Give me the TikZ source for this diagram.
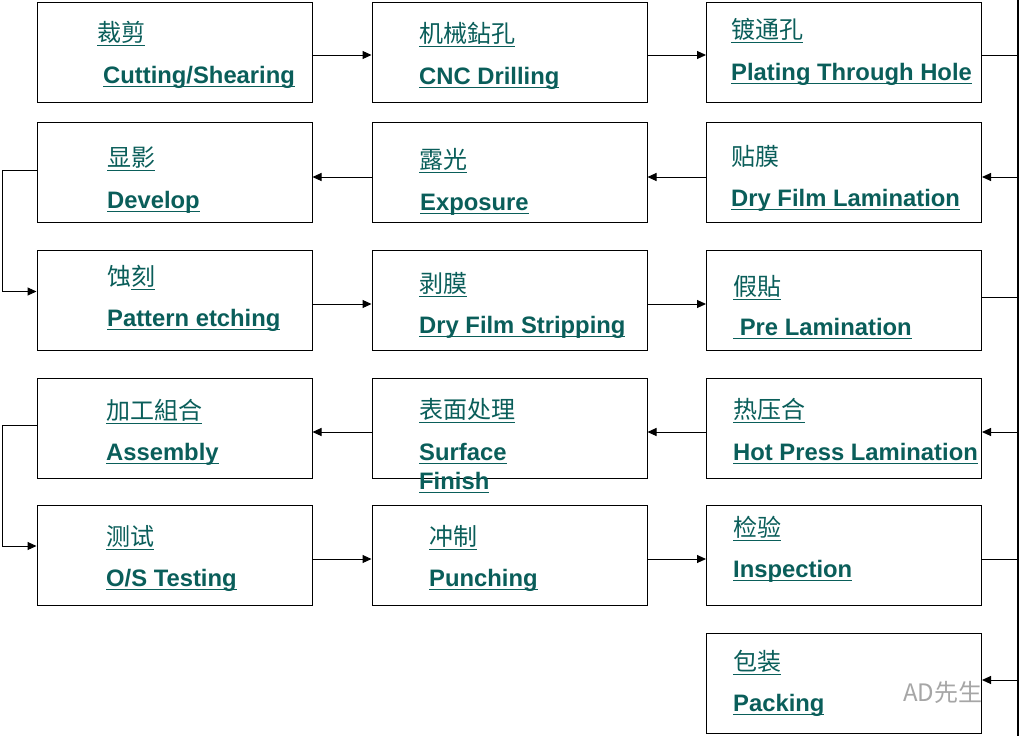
\documentclass[tikz,border=0pt]{standalone}
\usepackage{fontspec}
\setmainfont{Liberation Sans}
\newfontfamily\cjk{Noto Sans CJK SC}
\usetikzlibrary{arrows.meta}
\definecolor{tealtext}{RGB}{10,94,90}
\newdimen\ulgap
\newcommand{\uln}[1]{\setbox0\hbox{#1}\rlap{\vrule height -\ulgap depth \dimexpr\ulgap+1.2pt\relax width \wd0}\box0}

\begin{document}
\begin{tikzpicture}
[every node/.style={inner sep=0pt},
 stepbox/.style={rectangle, minimum width=275pt, minimum height=100pt, fill=white, line width=1pt, draw=black},
 cn/.style={anchor=base west, text=tealtext, font={\cjk\fontsize{24}{28}\selectfont\ulgap=4pt}},
 en/.style={anchor=base west, text=tealtext, font={\fontsize{23.8}{28}\selectfont\bfseries\ulgap=3pt}},
 conn/.style={line width=1pt, -{Triangle[length=9pt,width=8pt]}, color=black}]
\useasboundingbox [fill=white] (0pt, 0pt) rectangle (1020pt, -736pt);
\coordinate (rrail) at (1018pt, 0pt);
\coordinate (lrail) at (2pt, 0pt);
\draw [line width=1.5pt] (1018pt, 0pt) -- (1018pt, -736pt);
% boxes
\node (cut) [stepbox] at (174.5pt, -52pt) {};
\node (drill) [stepbox] at (509.5pt, -52pt) {};
\node (pth) [stepbox] at (844pt, -52pt) {};
\node (dev) [stepbox] at (174.5pt, -172pt) {};
\node (expo) [stepbox] at (509.5pt, -172pt) {};
\node (lam) [stepbox] at (844pt, -172pt) {};
\node (etch) [stepbox] at (174.5pt, -300.5pt) {};
\node (strip) [stepbox] at (509.5pt, -300.5pt) {};
\node (prelam) [stepbox] at (844pt, -300.5pt) {};
\node (assy) [stepbox] at (174.5pt, -428pt) {};
\node (surf) [stepbox] at (509.5pt, -428pt) {};
\node (hot) [stepbox] at (844pt, -428pt) {};
\node (ost) [stepbox] at (174.5pt, -555.5pt) {};
\node (punch) [stepbox] at (509.5pt, -555.5pt) {};
\node (insp) [stepbox] at (844pt, -555.5pt) {};
\node (pack) [stepbox] at (844pt, -683.5pt) {};
% labels
\node (cut-cn) [cn] at (97pt, -41pt) {\uln{裁剪}};
\node (cut-en) [en] at (103pt, -83pt) {\uln{Cutting/Shearing}};
\node (drill-cn) [cn] at (419pt, -42pt) {\uln{机械鉆孔}};
\node (drill-en) [en] at (419pt, -84pt) {\uln{CNC Drilling}};
\node (pth-cn) [cn] at (731pt, -38pt) {\uln{镀通孔}};
\node (pth-en) [en] at (731pt, -80pt) {\uln{Plating Through Hole}};
\node (dev-cn) [cn] at (107pt, -166pt) {\uln{显影}};
\node (dev-en) [en] at (107pt, -208pt) {\uln{Develop}};
\node (expo-cn) [cn] at (419pt, -168pt) {\uln{露光}};
\node (expo-en) [en] at (420pt, -210pt) {\uln{Exposure}};
\node (lam-cn) [cn] at (731pt, -165pt) {贴膜};
\node (lam-en) [en] at (731pt, -206pt) {\uln{Dry Film Lamination}};
\node (etch-cn) [cn] at (107pt, -285pt) {蚀\uln{刻}};
\node (etch-en) [en] at (107pt, -326pt) {\uln{Pattern etching}};
\node (strip-cn) [cn] at (419pt, -292pt) {\uln{剥膜}};
\node (strip-en) [en] at (419pt, -333pt) {\uln{Dry Film Stripping}};
\node (prelam-cn) [cn] at (733pt, -295pt) {\uln{假貼}};
\node (prelam-en) [en] at (733pt, -335pt) {\uln{\ Pre Lamination}};
\node (assy-cn) [cn] at (106pt, -419pt) {\uln{加工組合}};
\node (assy-en) [en] at (106pt, -460pt) {\uln{Assembly}};
\node (surf-cn) [cn] at (419pt, -418pt) {\uln{表面处理}};
\node (surf-en) [en] at (419pt, -460pt) {\uln{Surface}};
\node (surf-en2) [en] at (419pt, -489pt) {\uln{Finish}};
\node (hot-cn) [cn] at (733pt, -418pt) {\uln{热压合}};
\node (hot-en) [en] at (733pt, -460pt) {\uln{Hot Press Lamination}};
\node (ost-cn) [cn] at (106pt, -545pt) {\uln{测试}};
\node (ost-en) [en] at (106pt, -586pt) {\uln{O/S Testing}};
\node (punch-cn) [cn] at (429pt, -545pt) {\uln{冲制}};
\node (punch-en) [en] at (429pt, -586pt) {\uln{Punching}};
\node (insp-cn) [cn] at (733pt, -536pt) {\uln{检验}};
\node (insp-en) [en] at (733pt, -577pt) {\uln{Inspection}};
\node (pack-cn) [cn] at (733pt, -670pt) {\uln{包装}};
\node (pack-en) [en] at (733pt, -711pt) {\uln{Packing}};
\node (mark) [anchor=west, text=black!35, font={\cjk\fontsize{24}{28}\selectfont}] at (903pt, -692pt) {AD先生};
% flow
\draw [conn] ([yshift=-3pt]cut.east) to ([yshift=-3pt]drill.west);
\draw [conn] ([yshift=-3pt]drill.east) to ([yshift=-3pt]pth.west);
\draw [conn] ([yshift=-3pt]pth.east) -- ([yshift=-3pt]pth.east -| rrail) |- ([yshift=-5pt]lam.east);
\draw [conn] ([yshift=-5pt]lam.west) to ([yshift=-5pt]expo.east);
\draw [conn] ([yshift=-5pt]expo.west) to ([yshift=-5pt]dev.east);
\draw [conn] ([yshift=2pt]dev.west) -- ([yshift=2pt]dev.west -| lrail) |- ([yshift=9pt]etch.west);
\draw [conn] ([yshift=-3.5pt]etch.east) to ([yshift=-3.5pt]strip.west);
\draw [conn] ([yshift=-3.5pt]strip.east) to ([yshift=-3.5pt]prelam.west);
\draw [conn] ([yshift=3.5pt]prelam.east) -- ([yshift=3.5pt]prelam.east -| rrail) |- ([yshift=-4pt]hot.east);
\draw [conn] ([yshift=-4pt]hot.west) to ([yshift=-4pt]surf.east);
\draw [conn] ([yshift=-4pt]surf.west) to ([yshift=-4pt]assy.east);
\draw [conn] ([yshift=3pt]assy.west) -- ([yshift=3pt]assy.west -| lrail) |- ([yshift=9.5pt]ost.west);
\draw [conn] ([yshift=-3.5pt]ost.east) to ([yshift=-3.5pt]punch.west);
\draw [conn] ([yshift=-3.5pt]punch.east) to ([yshift=-3.5pt]insp.west);
\draw [conn] ([yshift=-3.5pt]insp.east) -- ([yshift=-3.5pt]insp.east -| rrail) |- ([yshift=3.5pt]pack.east);
\end{tikzpicture}
\end{document}
